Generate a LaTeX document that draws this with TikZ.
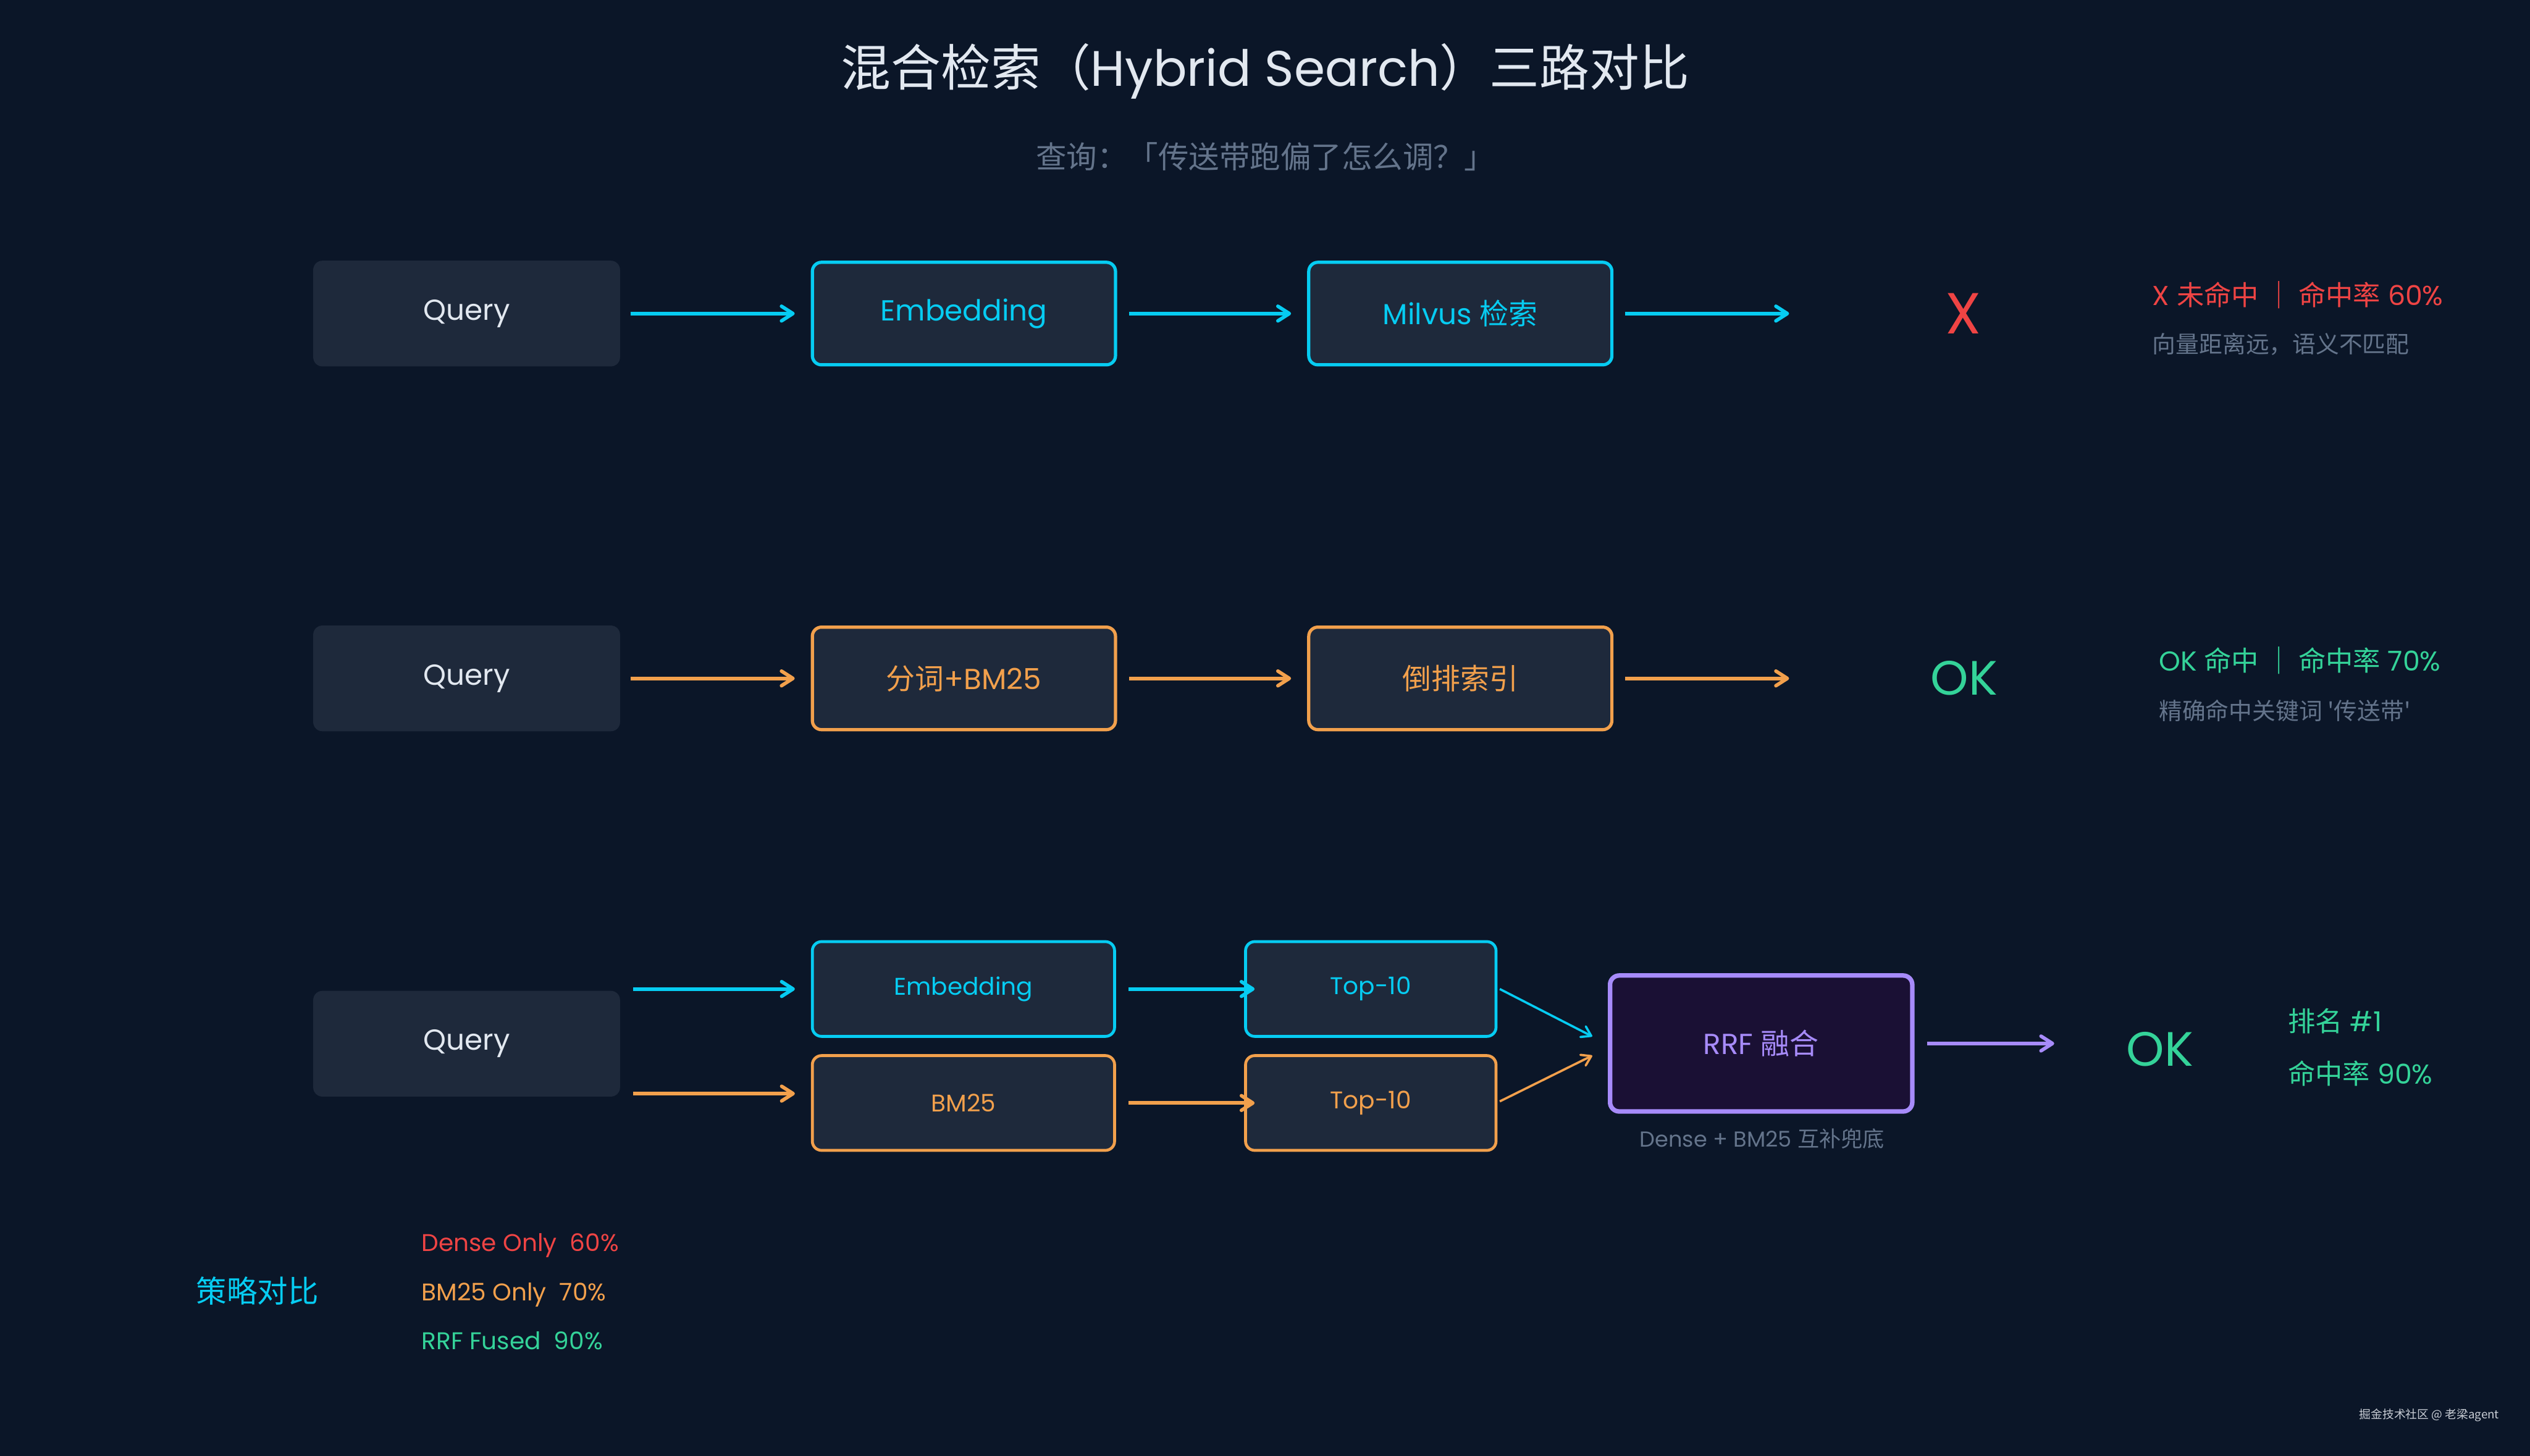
\documentclass[tikz,border=0pt]{standalone}
\usepackage{fontspec}
\setmainfont{Poppins}
\newfontfamily\zhfont{Noto Sans CJK SC}
\usetikzlibrary{arrows.meta}

\definecolor{bgnavy}{HTML}{0B1628}
\definecolor{boxfill}{HTML}{1E293B}
\definecolor{lighttext}{HTML}{E2E8F0}
\definecolor{mutedgray}{HTML}{64748B}
\definecolor{densecyan}{HTML}{06CCF2}
\definecolor{sparseorange}{HTML}{F2A04C}
\definecolor{missred}{HTML}{EF4444}
\definecolor{hitgreen}{HTML}{34D399}
\definecolor{rrfpurple}{HTML}{A78BFA}
\definecolor{rrffill}{HTML}{1A1034}
\definecolor{markgray}{HTML}{C8CDD5}

\newcommand{\fsz}[1]{\fontsize{#1}{#1}\selectfont}

\begin{document}
\begin{tikzpicture}[
    box/.style={fill=boxfill, rounded corners=0.2cm, inner sep=0pt,
                minimum width=6.70cm, minimum height=2.31cm, font=\fsz{18}},
    dense/.style={box, draw=densecyan, line width=2pt, text=densecyan,
                  minimum width=6.62cm, minimum height=2.24cm},
    sparse/.style={dense, draw=sparseorange, text=sparseorange},
    small/.style={line width=1.8pt, minimum height=2.07cm, font=\fsz{15}},
    note/.style={anchor=west, inner sep=0pt},
    flow/.style={line width=2.2pt, -{Straight Barb[length=2.5mm,width=3.2mm,round]}},
    merge/.style={line width=1.4pt, -{Straight Barb[length=2mm,width=2.6mm,round]}}
]
    % Background and frame
    \fill[bgnavy] (0,0) rectangle (55.25,31.8);
    \useasboundingbox (0,0) rectangle (55.25,31.8);

    % Title
    \node[text=lighttext, font=\fsz{31}] (title) at (27.63,30.25)
        {{\zhfont 混合检索（}Hybrid Search{\zhfont ）三路对比}};
    \node[text=mutedgray, font=\fsz{19}] (query) at (27.63,28.38)
        {\zhfont 查询：「传送带跑偏了怎么调？」};

    % Row 1: dense only
    \node[box, text=lighttext] (q1) at (10.19,24.95) {Query};
    \node[dense] (e1) at (21.05,24.95) {Embedding};
    \node[dense] (m1) at (31.89,24.95) {Milvus {\zhfont 检索}};
    \coordinate (end1) at (39.07,24.95);
    \draw[flow, densecyan] ([xshift=0.22cm]q1.east) -- ([xshift=-0.35cm]e1.west);
    \draw[flow, densecyan] ([xshift=0.26cm]e1.east) -- ([xshift=-0.35cm]m1.west);
    \draw[flow, densecyan] ([xshift=0.26cm]m1.east) -- (end1);
    \node[text=missred, font=\fsz{36}] (miss) at (42.87,24.95) {X};
    \node[note, text=missred, font=\fsz{17}] (res1) at (47.00,25.36)
        {X {\zhfont 未命中 ｜ 命中率} 60\%};
    \node[note, text=mutedgray, font=\fsz{14.5}] (why1) at (47.00,24.28)
        {\zhfont 向量距离远，语义不匹配};

    % Row 2: BM25 only
    \node[box, text=lighttext] (q2) at (10.19,16.98) {Query};
    \node[sparse] (e2) at (21.05,16.98) {{\zhfont 分词}+BM25};
    \node[sparse] (m2) at (31.89,16.98) {\zhfont 倒排索引};
    \coordinate (end2) at (39.07,16.98);
    \draw[flow, sparseorange] ([xshift=0.22cm]q2.east) -- ([xshift=-0.35cm]e2.west);
    \draw[flow, sparseorange] ([xshift=0.26cm]e2.east) -- ([xshift=-0.35cm]m2.west);
    \draw[flow, sparseorange] ([xshift=0.26cm]m2.east) -- (end2);
    \node[text=hitgreen, font=\fsz{30}] (hit2) at (42.89,16.98) {OK};
    \node[note, text=hitgreen, font=\fsz{17}] (res2) at (47.14,17.37)
        {OK {\zhfont 命中 ｜ 命中率} 70\%};
    \node[note, text=mutedgray, font=\fsz{14.5}] (why2) at (47.14,16.28)
        {\zhfont 精确命中关键词 '传送带'};

    % Row 3: hybrid with RRF
    \node[box, text=lighttext] (q3) at (10.19,9.00) {Query};
    \node[dense, small, minimum width=6.60cm] (e3) at (21.04,10.195) {Embedding};
    \node[sparse, small, minimum width=6.60cm] (b3) at (21.04,7.705) {BM25};
    \node[dense, small, minimum width=5.47cm] (t1) at (29.935,10.195) {Top-10};
    \node[sparse, small, minimum width=5.47cm] (t2) at (29.935,7.705) {Top-10};
    \node[box, draw=rrfpurple, fill=rrffill, line width=2.8pt, text=rrfpurple,
          minimum width=6.60cm, minimum height=2.97cm] (rrf) at (38.46,9.005)
        {RRF {\zhfont 融合}};
    \node[text=mutedgray, font=\fsz{13.5}] (rrfnote) at (38.48,6.92)
        {Dense + BM25 {\zhfont 互补兜底}};
    \coordinate (end3) at (44.86,9.005);
    \draw[flow, densecyan] ([xshift=0.28cm]q3.east |- e3.west) -- ([xshift=-0.35cm]e3.west);
    \draw[flow, sparseorange] ([xshift=0.28cm,yshift=0.205cm]q3.east |- b3.west)
        -- ([xshift=-0.35cm,yshift=0.205cm]b3.west);
    \draw[flow, densecyan] ([xshift=0.27cm]e3.east) -- ([xshift=0.23cm]t1.west);
    \draw[flow, sparseorange] ([xshift=0.27cm]b3.east) -- ([xshift=0.23cm]t2.west);
    \draw[merge, densecyan] ([xshift=0.05cm]t1.east) -- ([xshift=-0.34cm,yshift=0.155cm]rrf.west);
    \draw[merge, sparseorange] ([xshift=0.05cm,yshift=0.035cm]t2.east) -- ([xshift=-0.34cm,yshift=-0.265cm]rrf.west);
    \draw[flow, rrfpurple] ([xshift=0.27cm]rrf.east) -- (end3);
    \node[text=hitgreen, font=\fsz{30}] (hit3) at (47.17,8.88) {OK};
    \node[note, text=hitgreen, font=\fsz{17}] (rank3) at (49.96,9.50) {{\zhfont 排名} \#1};
    \node[note, text=hitgreen, font=\fsz{17}] (res3) at (49.96,8.35) {{\zhfont 命中率} 90\%};

    % Summary at the bottom left
    \node[text=densecyan, font=\fsz{19}] (sum) at (5.62,3.60) {\zhfont 策略对比};
    \node[anchor=base west, inner sep=0pt, text=missred, font=\fsz{15}] (s1) at (9.20,4.47) {Dense Only~~60\%};
    \node[anchor=base west, inner sep=0pt, text=sparseorange, font=\fsz{15}] (s2) at (9.20,3.38) {BM25 Only~~70\%};
    \node[anchor=base west, inner sep=0pt, text=hitgreen, font=\fsz{15}] (s3) at (9.20,2.32) {RRF Fused~~90\%};

    % Watermark
    \node[text=markgray, font=\fsz{7.2}] (mark) at (53.05,0.88) {\zhfont 掘金技术社区 @ 老梁agent};
\end{tikzpicture}
\end{document}
